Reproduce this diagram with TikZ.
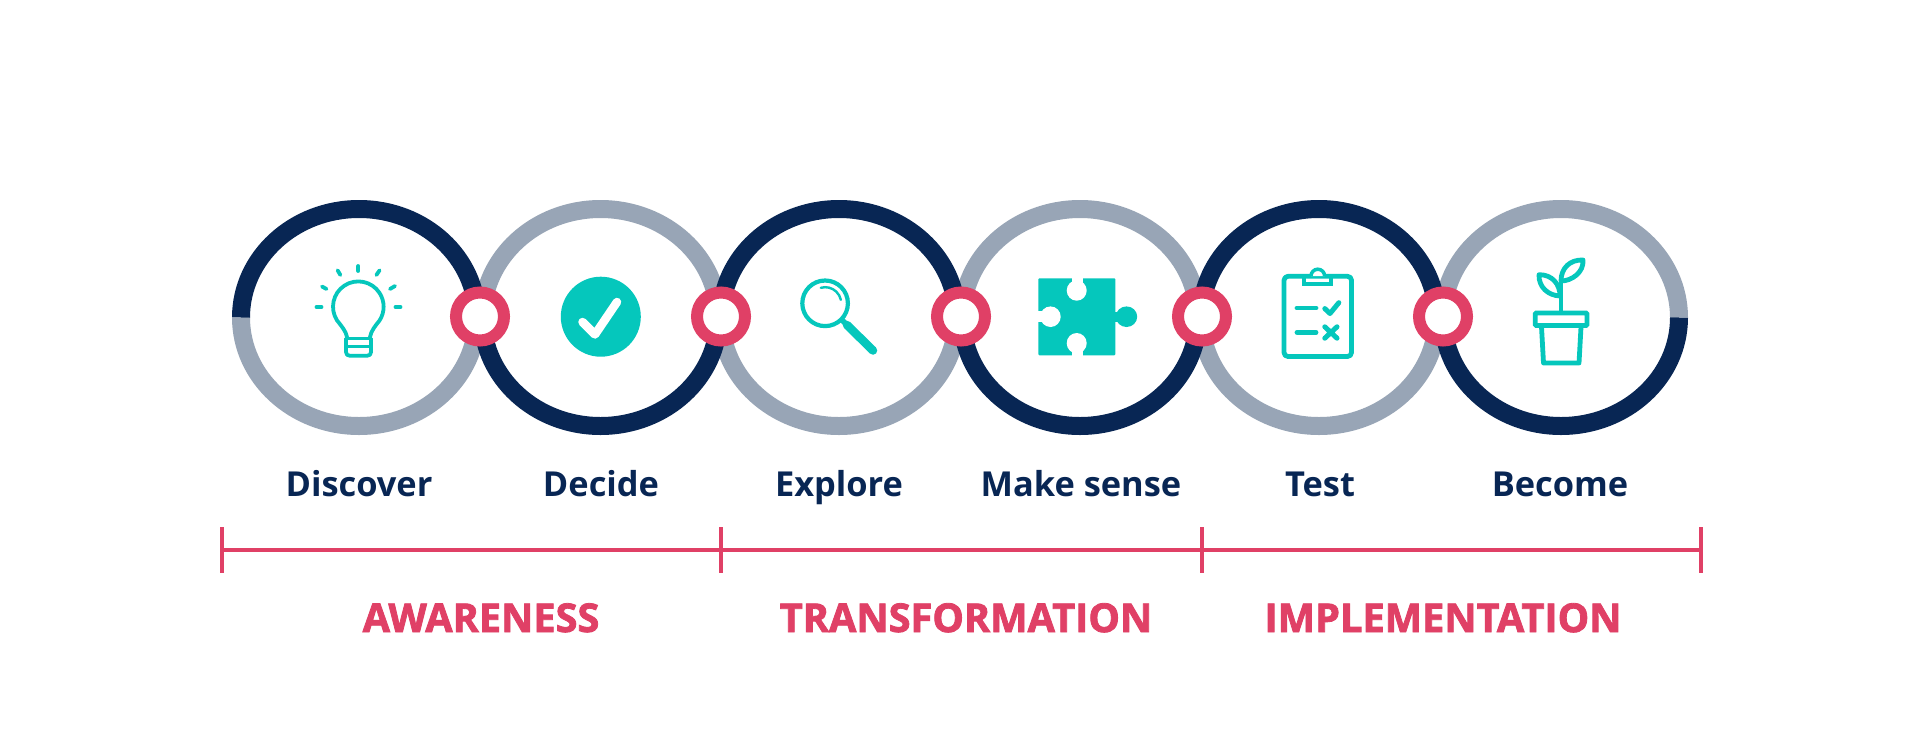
\documentclass[tikz,border=0pt]{standalone}
\usepackage{fontspec}
\setmainfont{Open Sans}
\newfontfamily\headfont[BoldFeatures={FakeBold=2}]{Open Sans}
\definecolor{navy}{HTML}{082654}
\definecolor{slate}{HTML}{98A5B6}
\definecolor{rose}{HTML}{E04066}
\definecolor{teal2}{HTML}{05C7BC}
\tikzset{
  ringarc/.style={line width=18pt,line cap=butt},
  pin/.style={circle,draw=rose,fill=white,line width=12pt,minimum size=48pt,inner sep=0pt},
  stagelabel/.style={font=\fontsize{34.4}{36}\selectfont\bfseries,text=navy,anchor=base},
  phaselabel/.style={font=\headfont\fontsize{39.7}{42}\selectfont\bfseries,text=rose,anchor=base},
  bar/.style={draw=rose,line width=4.5pt},
  tick/.style={draw=rose,line width=4pt},
  icon/.style={draw=teal2,line width=3.8pt,line cap=round,line join=round},
  iconb/.style={draw=teal2,line width=4.8pt,line cap=round,line join=round},
}
\newcommand{\topring}[2]{\draw[ringarc,#2] (#1-118,317.5) arc[start angle=180,end angle=360,x radius=118,y radius=108.5];}
\newcommand{\botring}[2]{\draw[ringarc,#2] (#1-118,317.5) arc[start angle=180,end angle=0,x radius=118,y radius=108.5];}
\begin{document}
\begin{tikzpicture}[x=1pt,y=-1pt]
\useasboundingbox (0,0) rectangle (1920,750);
\fill[white] (0,0) rectangle (1920,750);
% rings: grey first, navy on top
\topring{600.5}{slate}\topring{1080}{slate}\topring{1561}{slate}
\botring{359}{slate}\botring{839}{slate}\botring{1319}{slate}
\topring{359}{navy}\topring{839}{navy}\topring{1319}{navy}
\botring{600.5}{navy}\botring{1080}{navy}\botring{1561}{navy}
% pins
\node[pin] (p1) at (480,316.5) {};
\node[pin] (p2) at (721,316.5) {};
\node[pin] (p3) at (961,316.5) {};
\node[pin] (p4) at (1202,316.5) {};
\node[pin] (p5) at (1443,316.5) {};
% bulb
\draw[icon] (358.3,266)--(358.3,271);
\draw[icon] (337.6,270.3)--(340.4,275);
\draw[icon] (379.6,270.3)--(376.4,275);
\draw[icon] (322,286.5)--(326.5,289);
\draw[icon] (395,286)--(390,289);
\draw[icon] (316.5,307)--(321.5,307);
\draw[icon] (395.5,307)--(400.5,307);
\draw[icon] (347,337) .. controls (346,331) and (341,325.5) .. (337.1,320.5)
  arc[start angle=147,end angle=393,radius=25.3]
  .. controls (375.5,325.5) and (371,331) .. (370,337);
\draw[icon,line width=3.2pt] (346,338.5)--(371,338.5) (346,346.5)--(371,346.5);
\draw[icon] (346,338.5)--(346,352) .. controls (346,354.5) and (347.5,355.8) .. (350,355.8)--(367,355.8) .. controls (369.5,355.8) and (371,354.5) .. (371,352)--(371,338.5);
% check disc
\fill[teal2] (600.8,316.7) circle[radius=40];
\draw[white,line width=8.5pt,line cap=round,line join=round] (582.5,322)--(595,334.5)--(617,302);
% magnifier
\draw[teal2,line width=4.2pt] (825.1,303.3) circle[radius=22.8];
\draw[teal2,line width=2.4pt,line cap=round] (820.8,287.8) arc[start angle=-106,end angle=-12,radius=16];
\draw[teal2,line width=5.5pt] (842,320)--(848,326);
\draw[teal2,line width=8.5pt,line cap=round] (847,325)--(873,350.5);
% puzzle
\fill[teal2,rounded corners=1pt] (1038.3,278.3) rectangle (1115.3,355.3);
\fill[teal2] (1126.5,316.7) ellipse[x radius=10.7,y radius=10.3];
\fill[teal2] (1113,311.5) rectangle (1120,322);
\fill[white] (1076.7,290.5) ellipse[x radius=10,y radius=10.2];
\fill[white] (1071.8,277) rectangle (1082.5,286);
\fill[white] (1076.7,343.2) ellipse[x radius=10,y radius=10.2];
\fill[white] (1071.8,347) rectangle (1082.5,356.5);
\fill[white] (1050.5,316.7) ellipse[x radius=10.2,y radius=10.3];
\fill[white] (1037,311.3) rectangle (1046,322.2);
% clipboard
\draw[iconb,rounded corners=4pt] (1284,276.3) rectangle (1351.5,356.5);
\draw[iconb,line width=4pt,line cap=butt,line join=miter] (1304.3,276)--(1304.3,284.3)--(1331,284.3)--(1331,276);
\draw[teal2,fill=white,line width=3.5pt] (1311,276) arc[start angle=180,end angle=360,radius=6.8];
\draw[iconb] (1297,308)--(1316,308) (1297,332.3)--(1316,332.3);
\draw[iconb,line width=5pt] (1324.8,308.6)--(1330,313.5)--(1338.8,302.7);
\draw[iconb,line width=5pt] (1324.8,326.8)--(1337,338.2) (1337,326.8)--(1324.8,338.2);
% plant
\draw[iconb,line join=miter,rounded corners=1pt] (1535.2,313)rectangle(1587,325.5);
\draw[iconb] (1541.5,327)--(1543.5,363)--(1579,363)--(1581,327);
\draw[iconb,line cap=butt] (1561,311)--(1561,282);
\draw[iconb] (1539,274.7) .. controls (1552,274.5) and (1560,284) .. (1560,296) .. controls (1548,295.5) and (1538.5,287) .. cycle;
\draw[iconb] (1583,260) .. controls (1570,259.5) and (1561,268) .. (1561,281) .. controls (1572,281) and (1584,272) .. cycle;
% stage labels
\node[stagelabel] (l1) at (359,496.3) {Discover};
\node[stagelabel] (l2) at (601,496.3) {Decide};
\node[stagelabel] (l3) at (839,496.3) {Explore};
\node[stagelabel] (l4) at (1081,496.3) {Make sense};
\node[stagelabel] (l5) at (1320,496.3) {Test};
\node[stagelabel] (l6) at (1560,496.3) {Become};
% brackets
\coordinate (b0) at (221.6,550);
\coordinate (b1) at (721,550);
\coordinate (b2) at (1202,550);
\coordinate (b3) at (1701,550);
\draw[bar] (b0)--(b1)--(b2)--(b3);
\foreach \b in {b0,b1,b2,b3}{\draw[tick] ([yshift=23pt]\b)--([yshift=-22.5pt]\b);}
% phases
\node[phaselabel] (h1) at (481,632) {AWARENESS};
\node[phaselabel] (h2) at (966,632) {TRANSFORMATION};
\node[phaselabel] (h3) at (1443,632) {IMPLEMENTATION};
\end{tikzpicture}
\end{document}
